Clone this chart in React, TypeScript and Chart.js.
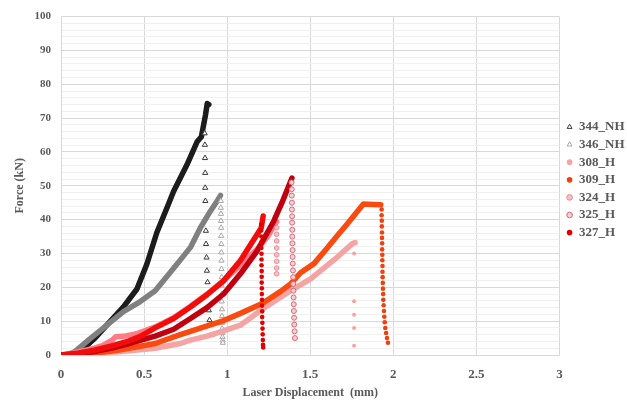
import React, { useEffect, useRef } from 'react';
import { Chart, registerables } from 'chart.js';

Chart.register(...registerables);

type Pt = [number, number];

// ---- data (Laser displacement mm, Force kN) ----
const seriesNames: string[] = ['344_NH', '346_NH', '308_H', '309_H', '324_H', '325_H', '327_H'];

const xTicks: number[] = [0, 0.5, 1, 1.5, 2, 2.5, 3];
const yTickLabels: number[] = [0, 10, 20, 30, 40, 50, 60, 70, 80, 90, 100];

const load344: Pt[] = [[0.07, 0], [0.115, 1], [0.2, 4.8], [0.266, 8.3], [0.376, 14.2], [0.457, 19.5], [0.517, 26.9], [0.577, 36.2], [0.638, 43.5], [0.678, 48.4], [0.758, 56.2], [0.819, 63], [0.845, 64.5], [0.87, 71], [0.88, 74.3], [0.89, 74]];
const drop344: Pt[] = [[0.865, 65.5], [0.866, 62.1], [0.867, 58.2], [0.868, 53.8], [0.868, 49.4], [0.869, 45.5], [0.872, 36.7], [0.873, 32.8], [0.876, 28.8], [0.878, 24.9], [0.882, 21.5], [0.89, 13.2], [0.894, 10.3], [0.905, 5.9]];

const load346: Pt[] = [[0.04, 0], [0.084, 1], [0.165, 4.4], [0.276, 8.8], [0.376, 12.8], [0.477, 15.8], [0.567, 19], [0.678, 25.6], [0.738, 29.3], [0.779, 31.8], [0.839, 37.6], [0.899, 42.5], [0.94, 45.5], [0.96, 47.2]];
const drop346: Pt[] = [[0.962, 45.5], [0.962, 43.5], [0.963, 41.7], [0.963, 39.6], [0.964, 37.6], [0.964, 35.2], [0.965, 32.8], [0.965, 30.3], [0.966, 27.9], [0.966, 25.4], [0.967, 23], [0.967, 20.5], [0.968, 18], [0.968, 15.8], [0.969, 13.5], [0.969, 11.5], [0.97, 9.5], [0.97, 7.8], [0.971, 6.5], [0.972, 5.3], [0.973, 4.3], [0.974, 3.6]];

const load308: Pt[] = [[0, 0], [0.2, 0.4], [0.4, 1.2], [0.567, 2], [0.718, 3.4], [0.779, 4.4], [0.879, 5.6], [0.97, 7], [1.08, 8.8], [1.211, 13.5], [1.322, 17.1], [1.382, 19], [1.503, 22.5], [1.563, 24.9], [1.66, 28.8], [1.754, 32.9], [1.77, 33.2]];
const drop308: Pt[] = [[1.764, 30], [1.764, 15.9], [1.764, 11.9], [1.764, 8], [1.764, 2.7]];

const load309: Pt[] = [[0, 0], [0.2, 0.5], [0.35, 1.5], [0.477, 2.6], [0.567, 3.4], [0.718, 6], [0.779, 7], [0.88, 8.6], [0.97, 10], [1.08, 12.3], [1.211, 15.2], [1.322, 18.8], [1.382, 21], [1.442, 24.3], [1.523, 27], [1.6, 31.5], [1.664, 35.3], [1.724, 38.8], [1.78, 42.2], [1.82, 44.6], [1.88, 44.5], [1.925, 44.4]];
const drop309: Pt[] = [[1.93, 43], [1.93, 41.3], [1.931, 39.7], [1.931, 38], [1.932, 36.2], [1.932, 34.6], [1.933, 33], [1.933, 31.2], [1.934, 29.6], [1.934, 28], [1.935, 26.3], [1.935, 24.6], [1.936, 23], [1.937, 21.3], [1.938, 19.6], [1.939, 18], [1.94, 16.3], [1.942, 14.7], [1.944, 13], [1.946, 11.3], [1.949, 9.7], [1.952, 8], [1.957, 6.5], [1.962, 5], [1.968, 3.6]];

const load324: Pt[] = [[0, 0], [0.1, 0.8], [0.2, 2], [0.25, 2.8], [0.31, 4.5], [0.33, 5.4], [0.39, 5.6], [0.45, 6.2], [0.567, 8.3], [0.678, 11], [0.779, 14.4], [0.879, 18], [0.98, 22], [1.08, 26.5], [1.181, 31.3], [1.241, 34.8], [1.298, 39.4]];
const drop324: Pt[] = [[1.298, 37.6], [1.298, 35.7], [1.298, 33.7], [1.298, 31.6], [1.298, 29.6], [1.298, 27.7], [1.298, 25.7], [1.298, 24]];

const load325: Pt[] = [[0, 0], [0.1, 0.3], [0.2, 1], [0.3, 2], [0.4, 3.2], [0.477, 4.3], [0.567, 5.6], [0.678, 7.6], [0.779, 10.8], [0.879, 14], [0.98, 18.1], [1.08, 24], [1.181, 30.8], [1.281, 39.6], [1.33, 45], [1.39, 52.3]];
const drop325: Pt[] = [[1.388, 51], [1.389, 49], [1.389, 47.1], [1.39, 45], [1.39, 43], [1.391, 41], [1.391, 39.1], [1.392, 37], [1.392, 35], [1.393, 33], [1.394, 31], [1.394, 29], [1.395, 27], [1.396, 25], [1.397, 23], [1.398, 21], [1.399, 19], [1.4, 17], [1.401, 15], [1.402, 13], [1.403, 11], [1.404, 9], [1.406, 7], [1.408, 5]];

const load327: Pt[] = [[0, 0], [0.1, 0.5], [0.2, 1.4], [0.3, 2.6], [0.4, 4], [0.477, 5.5], [0.567, 8], [0.678, 10.8], [0.779, 14.2], [0.879, 17.8], [0.98, 22], [1.08, 27.9], [1.181, 35.7], [1.205, 37.5], [1.217, 41.1]];
const drop327: Pt[] = [[1.205, 38.5], [1.205, 36.8], [1.206, 35], [1.206, 33.3], [1.206, 31.6], [1.207, 29.9], [1.207, 28.2], [1.207, 26.5], [1.208, 24.8], [1.208, 23.1], [1.208, 21.4], [1.209, 19.7], [1.209, 18], [1.21, 16.3], [1.21, 14.6], [1.211, 12.9], [1.211, 11.2], [1.212, 9.5], [1.213, 7.8], [1.214, 6.1], [1.215, 4.4], [1.216, 3], [1.217, 2.2]];

const loads: Pt[][] = [load344, load346, load308, load309, load324, load325, load327];
const drops: Pt[][] = [drop344, drop346, drop308, drop309, drop324, drop325, drop327];

// ---- styles ----
type Style = { line: string; width: number; marker: string; radius: number; fill: string; stroke: string; strokeW: number };
const styles: Style[] = [
  { line: '#1c1c1c', width: 5.5, marker: 'triangle', radius: 3, fill: '#ffffff', stroke: '#3a3a3a', strokeW: 1 },
  { line: '#808080', width: 5.5, marker: 'triangle', radius: 3, fill: '#ffffff', stroke: '#a8a8a8', strokeW: 1 },
  { line: '#f5a3a3', width: 5.5, marker: 'circle', radius: 2, fill: '#f5a3a3', stroke: '#f5a3a3', strokeW: 0 },
  { line: '#fa4a10', width: 5.5, marker: 'circle', radius: 2.3, fill: '#f04010', stroke: '#f04010', strokeW: 0 },
  { line: '#ff7c86', width: 5.5, marker: 'circle', radius: 2.3, fill: '#f9c0c6', stroke: '#f08894', strokeW: 1 },
  { line: '#c0000f', width: 5.5, marker: 'circle', radius: 2.5, fill: '#f7cfd3', stroke: '#d46a78', strokeW: 1 },
  { line: '#f20c0c', width: 5.5, marker: 'circle', radius: 2.3, fill: '#e00000', stroke: '#e00000', strokeW: 0 },
];

const FONT = "'Liberation Serif', 'Times New Roman', serif";
const TEXT = '#595959';

// moves the built-in legend box to the spot it has in the reference
const legendNudge = {
  id: 'legendNudge',
  afterLayout(chart: any) {
    const lg = chart.legend;
    if (!lg) return;
    const dx = 562 - lg.left;
    lg.left += dx;
    lg.right += dx;
    lg.top -= 6;
    lg.bottom -= 6;
  },
};

export default function App() {
  const ref = useRef<HTMLCanvasElement | null>(null);

  useEffect(() => {
    if (!ref.current) return;
    const datasets = seriesNames.map((name, i) => {
      const load = loads[i];
      const drop = drops[i];
      const n = load.length;
      const st = styles[i];
      return {
        label: name,
        data: [...load, ...drop].map(([x, y]) => ({ x, y })),
        order: seriesNames.length - i,
        borderColor: st.line,
        backgroundColor: st.fill,
        borderWidth: st.width,
        borderJoinStyle: 'round' as const,
        borderCapStyle: 'round' as const,
        tension: 0,
        fill: false,
        segment: {
          borderColor: (c: any) => (c.p0DataIndex >= n - 1 ? 'rgba(0,0,0,0)' : undefined),
        },
        pointStyle: st.marker,
        pointRadius: (c: any) => (c.dataIndex >= n ? st.radius : 0),
        pointHoverRadius: (c: any) => (c.dataIndex >= n ? st.radius : 0),
        pointBackgroundColor: st.fill,
        pointBorderColor: st.stroke,
        pointBorderWidth: st.strokeW,
      };
    });

    const chart = new Chart(ref.current, {
      type: 'line',
      data: { datasets: datasets as any },
      plugins: [legendNudge],
      options: {
        animation: false,
        responsive: false,
        maintainAspectRatio: false,
        events: [],
        layout: { padding: { top: 14, right: -5, bottom: 0, left: 0 } },
        plugins: {
          tooltip: { enabled: false },
          legend: {
            position: 'right',
            fullSize: false,
            labels: {
              usePointStyle: true,
              boxWidth: 6,
              boxHeight: 4,
              padding: 4.6,
              color: TEXT,
              font: { family: FONT, size: 13, weight: 'bold' },
              sort: (a: any, b: any) => a.datasetIndex - b.datasetIndex,
            },
          },
        },
        scales: {
          x: {
            type: 'linear',
            min: 0,
            max: 3,
            afterFit: (s: any) => { s.height = 50; },
            afterBuildTicks: (s: any) => { s.ticks = xTicks.map((v) => ({ value: v })); },
            ticks: {
              color: TEXT,
              padding: 12,
              maxRotation: 0,
              font: { family: FONT, size: 13, weight: 'bold' },
              callback: (v: any) => String(v),
            },
            grid: { color: '#d9d9d9', drawTicks: false, lineWidth: 1 },
            border: { color: '#d9d9d9' },
            title: {
              display: true,
              text: 'Laser Displacement  (mm)',
              color: TEXT,
              font: { family: FONT, size: 12, weight: 'bold' },
              padding: { top: 0, bottom: 5 },
            },
          },
          y: {
            type: 'linear',
            min: 0,
            max: 100,
            afterFit: (s: any) => { s.width = 61; },
            ticks: {
              stepSize: 2,
              autoSkip: false,
              color: TEXT,
              padding: 10,
              font: { family: FONT, size: 11, weight: 'bold' },
              callback: (v: any) => (yTickLabels.includes(Number(v)) ? String(v) : ''),
            },
            grid: {
              drawTicks: false,
              color: (c: any) => (c.tick && c.tick.value % 10 === 0 ? '#d9d9d9' : '#f0f0f0'),
            },
            border: { color: '#d9d9d9' },
            title: {
              display: true,
              text: 'Force (kN)',
              color: TEXT,
              font: { family: FONT, size: 12, weight: 'bold' },
              padding: { top: 13, bottom: 0 },
            },
          },
        },
      },
    });
    return () => chart.destroy();
  }, []);

  return (
    <div style={{ position: 'absolute', left: 0, top: 0, width: 627, height: 405, background: '#ffffff' }}>
      <canvas ref={ref} width={627} height={405} style={{ width: 627, height: 405 }} />
    </div>
  );
}
